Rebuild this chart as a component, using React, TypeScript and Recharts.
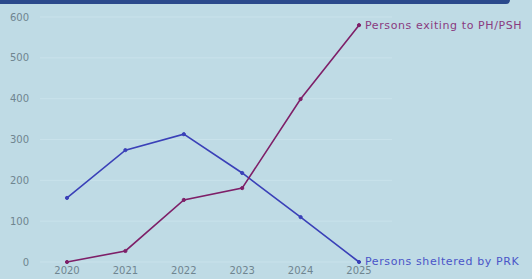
import React from 'react';
import { LineChart, Line, XAxis, YAxis, CartesianGrid } from 'recharts';

const years = ['2020', '2021', '2022', '2023', '2024', '2025'];
const sheltered = [157, 274, 313, 218, 110, 0];
const exiting = [0, 27, 152, 181, 399, 580];
const yTicks = [0, 100, 200, 300, 400, 500, 600];

const BLUE = '#3a40b8';
const PURPLE = '#7e1f68';
const FONT = '"DejaVu Sans", sans-serif';

const data = years.map((year, i) => ({ year, sheltered: sheltered[i], exiting: exiting[i] }));

const endLabel = (text: string, color: string, dy: number) => (props: any) => {
  const { x, y, index } = props;
  if (index !== years.length - 1) return null;
  return (
    <text x={x + 6} y={y + dy} fill={color} fontSize={11} fontFamily={FONT} letterSpacing={0.6}>
      {text}
    </text>
  );
};

const App: React.FC = () => (
  <div style={{ position: 'absolute', top: 0, left: 0, width: 532, height: 279, background: '#bfdbe5', overflow: 'hidden' }}>
    <div style={{ position: 'absolute', top: 0, left: 0, width: 510, height: 4, background: '#2b4a8c', borderBottomRightRadius: 4 }} />
    <LineChart width={532} height={279} data={data} margin={{ top: 17, right: 140, left: 0, bottom: 0 }}>
      <CartesianGrid vertical={false} stroke="#c9e2eb" strokeWidth={1} />
      <XAxis
        dataKey="year"
        padding={{ left: 27, right: 33 }}
        axisLine={false}
        tickLine={false}
        tickSize={0}
        tickMargin={5}
        height={17}
        interval={0}
        tick={{ fill: '#6f8590', fontSize: 10, fontFamily: FONT }}
      />
      <YAxis
        domain={[0, 600]}
        ticks={yTicks}
        width={40}
        axisLine={false}
        tickLine={false}
        tickSize={0}
        tickMargin={11}
        tick={{ fill: '#6f8590', fontSize: 10, fontFamily: FONT }}
      />
      <Line
        type="linear"
        dataKey="sheltered"
        stroke={BLUE}
        strokeWidth={1.6}
        dot={{ r: 1.6, fill: BLUE, stroke: BLUE, strokeWidth: 1 }}
        isAnimationActive={false}
        label={endLabel('Persons sheltered by PRK', '#4a55c8', 3)}
      />
      <Line
        type="linear"
        dataKey="exiting"
        stroke={PURPLE}
        strokeWidth={1.6}
        dot={{ r: 1.6, fill: PURPLE, stroke: PURPLE, strokeWidth: 1 }}
        isAnimationActive={false}
        label={endLabel('Persons exiting to PH/PSH', '#8a3a80', 4)}
      />
    </LineChart>
  </div>
);

export default App;
